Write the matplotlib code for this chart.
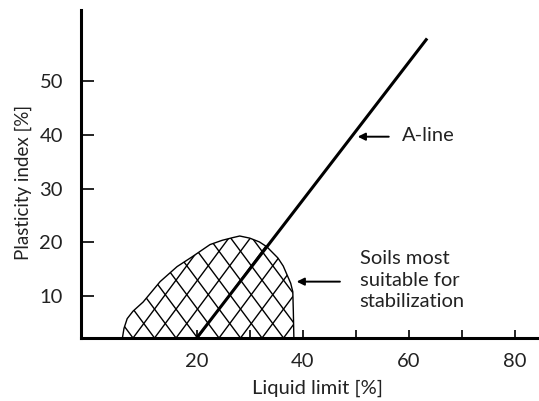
import matplotlib
matplotlib.use("Agg")
import matplotlib.pyplot as plt
import numpy as np
from matplotlib.patches import Polygon

plt.rcParams['font.family'] = ['Lato', 'DejaVu Sans']

# A-line (schematic, as drawn)
a_line_ll = [20.0, 63.4]
a_line_pi = [2.2, 58.0]

# Boundary of the zone of soils most suitable for stabilization
zone_ll = [6.0, 6.3, 6.9, 8.0, 9.9, 13.1, 16.3, 19.1, 22.5, 24.8, 26.8, 28.1, 30.0, 31.8,
           33.2, 35.3, 36.3, 37.0, 37.7, 38.1, 38.2, 38.3]
zone_pi = [2.2, 4.0, 5.8, 7.2, 8.9, 12.7, 15.5, 17.3, 19.6, 20.4, 20.9, 21.2, 20.8, 20.1,
           19.2, 17.1, 15.6, 14.0, 12.4, 10.8, 7.1, 2.2]

x_ticks = [20, 30, 40, 50, 60, 70, 80]
x_tick_labels = ["20", "", "40", "", "60", "", "80"]
y_ticks = [10, 20, 30, 40, 50]
y_tick_labels = ["10", "20", "30", "40", "50"]

FS = 14.5
TXT = '#222222'

W, H = 539, 401
fig = plt.figure(figsize=(W / 100, H / 100), dpi=100)
ax = fig.add_axes([81 / W, (H - 338) / H, (537 - 81) / W, (338 - 10) / H])
ax.set_xlim(-1.8, 84.1)
ax.set_ylim(2.2, 63.3)

for s in ['top', 'right']:
    ax.spines[s].set_visible(False)
for s in ['left', 'bottom']:
    ax.spines[s].set_linewidth(2.2)
    ax.spines[s].set_color('black')

ax.set_xticks(x_ticks)
ax.set_xticklabels(x_tick_labels)
ax.set_yticks(y_ticks)
ax.set_yticklabels(y_tick_labels)
ax.tick_params(axis='x', direction='in', length=6, width=1.2, pad=11, labelsize=FS, colors='black', labelcolor=TXT)
ax.tick_params(axis='y', direction='in', length=9, width=1.2, pad=13, labelsize=FS, colors='black', labelcolor=TXT)

# Zone outline
poly = Polygon(list(zip(zone_ll, zone_pi)), closed=True, facecolor='none',
               edgecolor='black', linewidth=1.0, zorder=2, joinstyle='round')
ax.add_patch(poly)

# Cross-hatching (style): two families of parallel lines clipped to the zone
hatch_step = 4.05
hatch_slope = 1.33
hatch_start = 8.0 - 12 * hatch_step
base = 2.2
rise = 30.0
for k in range(30):
    c = hatch_start + k * hatch_step
    for sgn in (1, -1):
        ln, = ax.plot([c, c + sgn * rise / hatch_slope], [base, base + rise],
                      color='black', linewidth=1.0, zorder=2)
        ln.set_clip_path(poly)

# A-line
ax.plot(a_line_ll, a_line_pi, color='black', linewidth=2.2, zorder=3, solid_capstyle='butt')

# Annotations
ax.annotate('', xy=(49.8, 39.7), xytext=(56.7, 39.7),
            arrowprops=dict(arrowstyle='-|>', color='black', lw=1.4, mutation_scale=11))
ax.text(58.6, 39.9, 'A-line', fontsize=FS, color=TXT, va='center', ha='left')

ax.annotate('', xy=(38.3, 12.7), xytext=(47.5, 12.7),
            arrowprops=dict(arrowstyle='-|>', color='black', lw=1.4, mutation_scale=11))
ax.text(50.7, 13.0, 'Soils most\nsuitable for\nstabilization', fontsize=FS, color=TXT,
        va='center', ha='left', linespacing=1.3)

ax.set_xlabel('Liquid limit [%]', fontsize=FS, color=TXT)
ax.set_ylabel('Plasticity index [%]', fontsize=13.5, color=TXT)
ax.xaxis.set_label_coords(0.518, -0.128)
ax.yaxis.set_label_coords(-0.107, 0.473)

fig.savefig('out.png', dpi=100)
